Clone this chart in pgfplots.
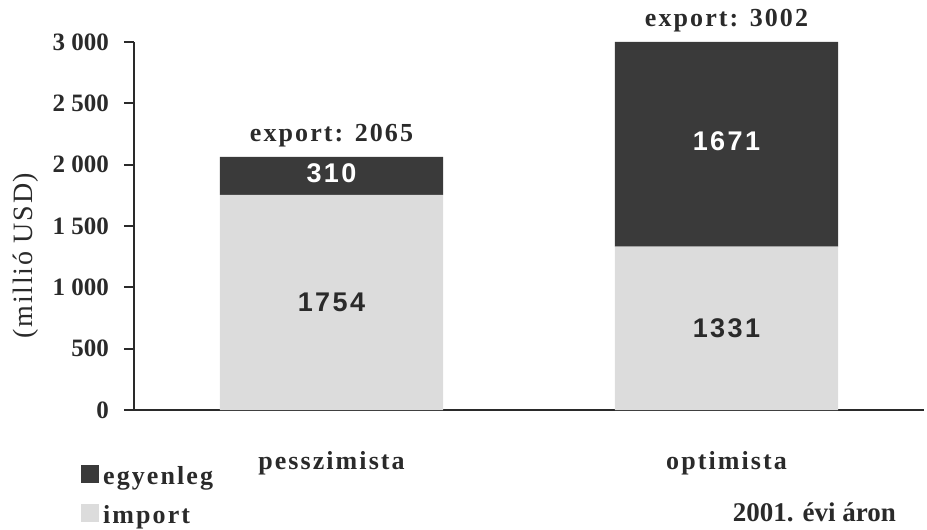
\documentclass[border=0pt]{standalone}
\usepackage{pgfplots}
\pgfplotsset{compat=1.18}
\usepackage{fontspec}
\setmainfont{Liberation Serif}
\newfontfamily\sansf{Liberation Sans}[LetterSpace=9]
\newfontfamily\spaced{Liberation Serif}[LetterSpace=8]
\newfontfamily\lspaced{Liberation Serif}[LetterSpace=6]
\definecolor{dark}{HTML}{3A3A3A}
\definecolor{light}{HTML}{DCDCDC}
\definecolor{txt}{HTML}{2A2A2A}
\begin{document}
\begin{tikzpicture}
\useasboundingbox (-67pt,-60pt) rectangle (396.5pt,205pt);
\begin{axis}[
  scale only axis, width=395pt, height=184pt,
  ybar stacked, bar width=0.565,
  xmin=-0.5, xmax=1.5, ymin=0, ymax=3000,
  axis x line*=bottom, axis y line*=left,
  axis line style={line width=1pt, txt},
  xtick={0,1}, xticklabels={pesszimista,optimista},
  major x tick style={draw=none},
  extra x ticks={-0.5,1.5}, extra x tick labels={},
  extra x tick style={tick style={draw=txt, line width=1pt}, major tick length=10pt, tick align=center},
  xticklabel style={font=\spaced\fontsize{13}{13}\selectfont\bfseries, text=txt, yshift=-12pt},
  ytick={0,500,1000,1500,2000,2500,3000},
  yticklabels={0,500,1\ 000,1\ 500,2\ 000,2\ 500,3\ 000},
  yticklabel style={font=\fontsize{12.5}{12.5}\selectfont\bfseries, text=txt, xshift=-4pt},
  y tick style={draw=txt, line width=1pt},
  tick align=outside, major tick length=5pt,
  clip=false,
  reverse legend,
  legend style={at={(-0.075,-0.13)}, anchor=north west, draw=none, fill=none,
    font=\spaced\fontsize{13}{13}\selectfont\bfseries, text=txt, row sep=5pt,
    /tikz/every even column/.append style={column sep=2pt}},
  legend cell align=left,
  legend image code/.code={\fill[#1] (0pt,-3pt) rectangle (9pt,6pt);},
]
\addplot[fill=light, draw=none] coordinates {(0,1754) (1,1331)};
\addlegendentry{import}
\addplot[fill=dark, draw=none] coordinates {(0,310) (1,1671)};
\addlegendentry{egyenleg}
\coordinate (l1) at (axis cs:0,877);
\coordinate (l2) at (axis cs:1,665);
\coordinate (l3) at (axis cs:0,1930);
\coordinate (l4) at (axis cs:1,2190);
\node[font=\spaced\fontsize{13}{13}\selectfont\bfseries, text=txt, anchor=base, yshift=7.5pt] at (axis cs:0,2064) {export: 2065};
\node[font=\spaced\fontsize{13}{13}\selectfont\bfseries, text=txt, anchor=base, yshift=7.5pt] at (axis cs:1,3002) {export: 3002};
\node[font=\lspaced\fontsize{14}{14}\selectfont, text=txt, rotate=90, yshift=54pt] at (rel axis cs:0,0.42) {(millió USD)};
\node[font=\fontsize{13.5}{13.5}\selectfont\bfseries, text=txt, anchor=east, xshift=-10.5pt, yshift=-51pt] at (rel axis cs:1,0) {2001. évi áron};
\end{axis}
\node[font=\sansf\fontsize{13.5}{13.5}\selectfont\bfseries, text=txt] at (l1) {1754};
\node[font=\sansf\fontsize{13.5}{13.5}\selectfont\bfseries, text=txt] at (l2) {1331};
\node[font=\sansf\fontsize{13.5}{13.5}\selectfont\bfseries, text=white] at (l3) {310};
\node[font=\sansf\fontsize{13.5}{13.5}\selectfont\bfseries, text=white] at (l4) {1671};
\end{tikzpicture}
\end{document}
